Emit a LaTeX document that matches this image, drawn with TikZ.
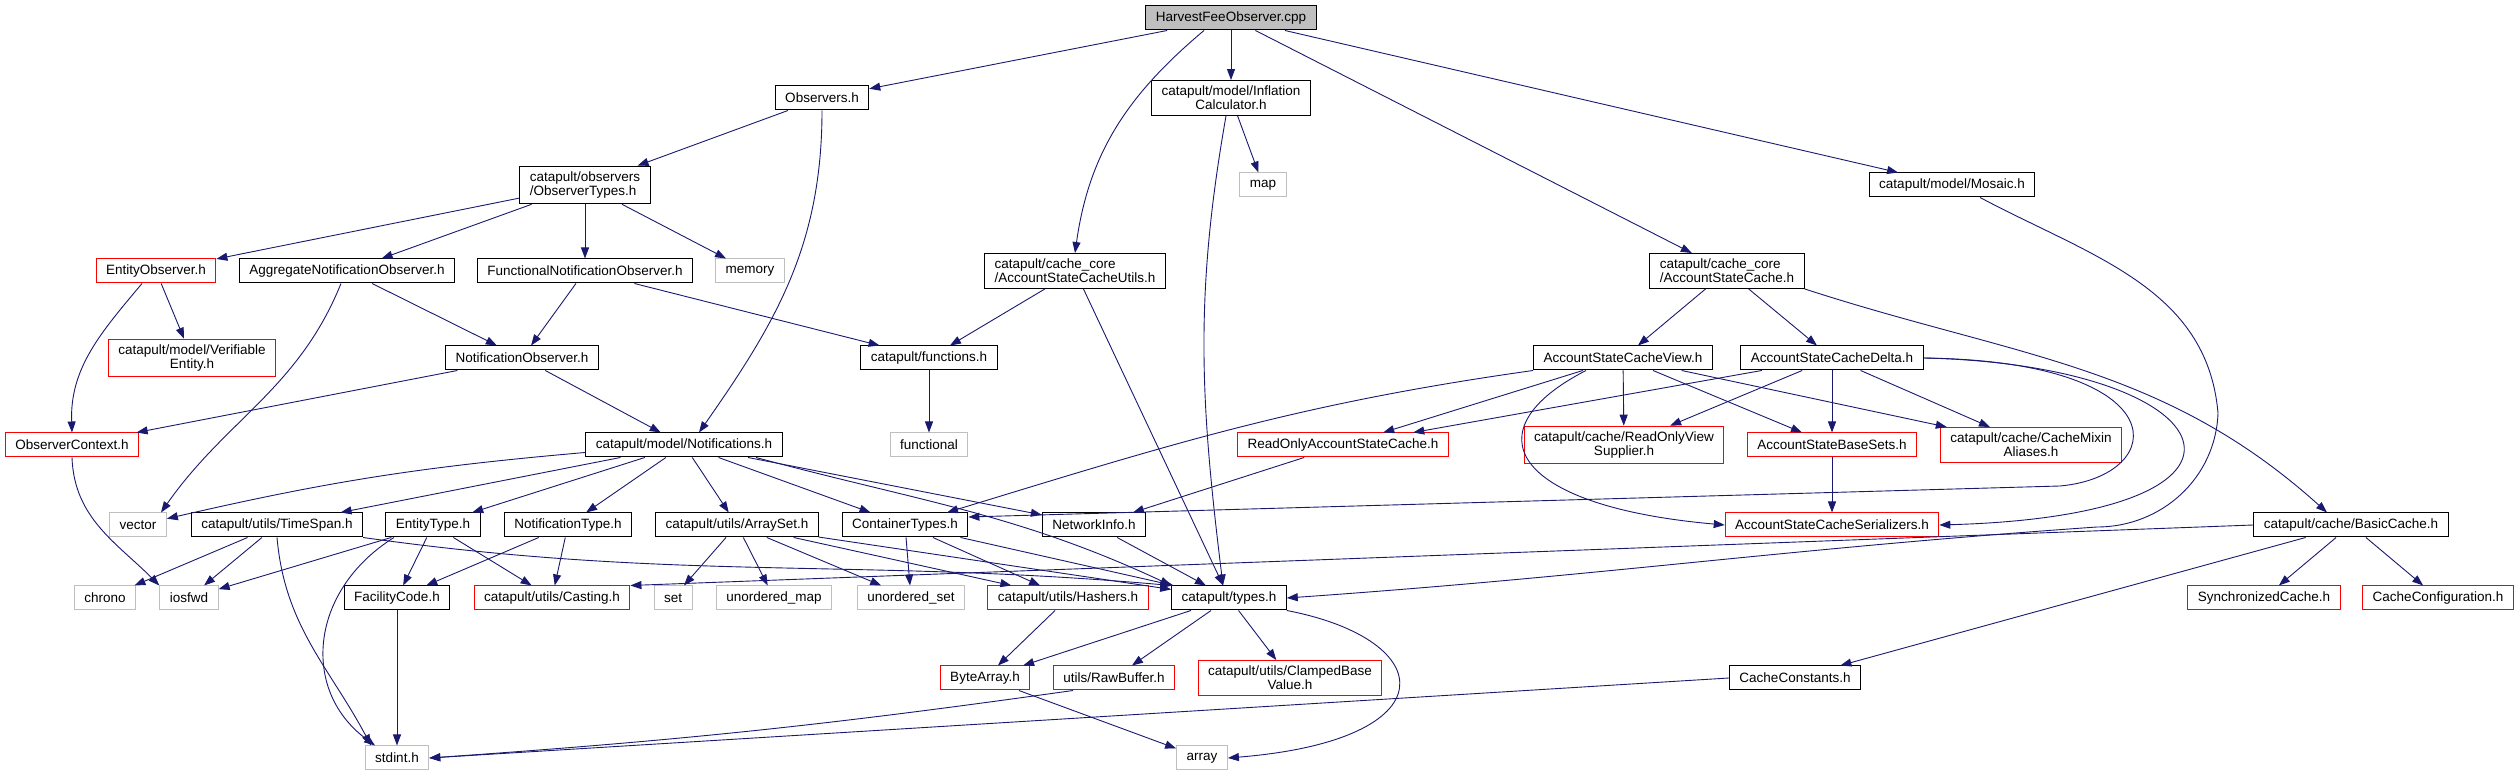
\documentclass[tikz,border=0pt]{standalone}
\usepackage{fontspec}
\setmainfont{Liberation Sans}
\usetikzlibrary{arrows.meta}
\definecolor{edgeblue}{RGB}{25,25,112}
\definecolor{sysgray}{RGB}{191,191,191}

\begin{document}
\begin{tikzpicture}[
  x=1pt, y=1pt,
  every node/.style={font=\fontsize{13.5}{14}\selectfont},
  hdr/.style={draw, line width=1pt, inner xsep=10pt, inner ysep=5.5pt, minimum height=24pt, align=center, fill=white},
  missing/.style={hdr, draw=red},
  sys/.style={hdr, draw=sysgray},
  root/.style={hdr, fill=sysgray},
  inc/.style={draw=edgeblue, line width=0.9pt, -{Triangle[length=11pt, width=8pt]}}
]
  \useasboundingbox (0,0) rectangle (2519,776);

  \node[root] (harvest) at (1231,758) {HarvestFeeObserver.cpp};
  \node[hdr] (observers) at (822,678) {Observers.h};
  \node[hdr] (inflation) at (1231,678) {catapult/model/Inflation\\Calculator.h};
  \node[hdr, align=left] (obstypes) at (585,591) {catapult/observers\\/ObserverTypes.h};
  \node[sys] (map) at (1263,591) {map};
  \node[hdr] (mosaic) at (1952,591) {catapult/model/Mosaic.h};
  \node[missing] (entobs) at (156,505) {EntityObserver.h};
  \node[hdr] (aggobs) at (347,505) {AggregateNotificationObserver.h};
  \node[hdr] (funcobs) at (585,505) {FunctionalNotificationObserver.h};
  \node[sys] (memory) at (750,505) {memory};
  \node[hdr, align=left] (cacheutils) at (1075,505) {catapult/cache\_core\\/AccountStateCacheUtils.h};
  \node[hdr, align=left] (cache) at (1727,505) {catapult/cache\_core\\/AccountStateCache.h};
  \node[missing] (verifiable) at (192,418) {catapult/model/Verifiable\\Entity.h};
  \node[hdr] (notifobs) at (522,418) {NotificationObserver.h};
  \node[hdr] (functions) at (929,418) {catapult/functions.h};
  \node[hdr] (view) at (1623,418) {AccountStateCacheView.h};
  \node[hdr] (delta) at (1832,418) {AccountStateCacheDelta.h};
  \node[missing] (obsctx) at (72,331) {ObserverContext.h};
  \node[hdr] (notifs) at (684,331) {catapult/model/Notifications.h};
  \node[sys] (functional) at (929,331) {functional};
  \node[missing] (readonly) at (1343,331) {ReadOnlyAccountStateCache.h};
  \node[missing] (viewsupplier) at (1624,331) {catapult/cache/ReadOnlyView\\Supplier.h};
  \node[missing] (basesets) at (1832,331) {AccountStateBaseSets.h};
  \node[missing] (mixin) at (2031,331) {catapult/cache/CacheMixin\\Aliases.h};
  \node[sys] (vector) at (138,251) {vector};
  \node[hdr] (timespan) at (277,251) {catapult/utils/TimeSpan.h};
  \node[hdr] (enttype) at (433,251) {EntityType.h};
  \node[hdr] (notiftype) at (568,251) {NotificationType.h};
  \node[hdr] (arrayset) at (737,251) {catapult/utils/ArraySet.h};
  \node[hdr] (containers) at (905,251) {ContainerTypes.h};
  \node[hdr] (netinfo) at (1094,251) {NetworkInfo.h};
  \node[missing] (serializers) at (1832,251) {AccountStateCacheSerializers.h};
  \node[hdr] (basiccache) at (2351,251) {catapult/cache/BasicCache.h};
  \node[sys] (chrono) at (105,178) {chrono};
  \node[sys] (iosfwd) at (189,178) {iosfwd};
  \node[hdr] (facility) at (397,178) {FacilityCode.h};
  \node[missing] (casting) at (552,178) {catapult/utils/Casting.h};
  \node[sys] (set) at (673,178) {set};
  \node[sys] (umap) at (774,178) {unordered\_map};
  \node[sys] (uset) at (911,178) {unordered\_set};
  \node[missing] (hashers) at (1068,178) {catapult/utils/Hashers.h};
  \node[hdr] (types) at (1229,178) {catapult/types.h};
  \node[missing] (syncache) at (2264,178) {SynchronizedCache.h};
  \node[missing] (cacheconf) at (2438,178) {CacheConfiguration.h};
  \node[missing] (bytearray) at (985,98) {ByteArray.h};
  \node[missing] (rawbuffer) at (1114,98) {utils/RawBuffer.h};
  \node[missing] (clamped) at (1290,98) {catapult/utils/ClampedBase\\Value.h};
  \node[hdr] (constants) at (1795,98) {CacheConstants.h};
  \node[sys] (stdint) at (397,18) {stdint.h};
  \node[sys] (array) at (1202,18) {array};

  \draw[inc] (harvest) -- (observers);
  \draw[inc] ([xshift=-27pt]harvest.south) to[out=-140,in=82] (cacheutils.north);
  \draw[inc] (harvest) -- (inflation);
  \draw[inc] (harvest) -- (cache);
  \draw[inc] (harvest) -- (mosaic);
  \draw[inc] (observers) -- (obstypes);
  \draw[inc] (observers.south) to[out=-90,in=55] ([xshift=15pt]notifs.north);
  \draw[inc] (obstypes) -- (entobs);
  \draw[inc] (obstypes) -- (aggobs);
  \draw[inc] (obstypes) -- (funcobs);
  \draw[inc] (obstypes) -- (memory);
  \draw[inc] (entobs) -- (verifiable);
  \draw[inc] ([xshift=-14pt]entobs.south) to[out=-130,in=92] (obsctx.north);
  \draw[inc] (aggobs) -- (notifobs);
  \draw[inc] ([xshift=-6pt]aggobs.south) to[out=-112,in=55] ([xshift=23pt]vector.north);
  \draw[inc] (funcobs) -- (notifobs);
  \draw[inc] (funcobs) -- (functions);
  \draw[inc] (notifobs) -- (obsctx);
  \draw[inc] (notifobs) -- (notifs);
  \draw[inc] (obsctx.south) to[out=-88,in=135] (iosfwd.north west);
  \draw[inc] (inflation) -- (map);
  \draw[inc] ([xshift=-5pt]inflation.south) to[out=-100,in=97] ([xshift=-6pt]types.north);
  \draw[inc] (cacheutils) -- (functions);
  \draw[inc] (cacheutils) -- (types);
  \draw[inc] (functions) -- (functional);
  \draw[inc] ([xshift=28pt]mosaic.south) to[out=-28,in=95] (2218,363) to[out=-92,in=0] (2097,249) to[out=184,in=4] (types.east);
  \draw[inc] (cache) -- (view);
  \draw[inc] (cache) -- (delta);
  \draw[inc] (cache.south east) to[out=-18,in=138] ([xshift=-24pt]basiccache.north);

  \draw[inc] (view.south west) to[out=-172,in=17] ([xshift=42pt]containers.north);
  \draw[inc] (view) -- (readonly);
  \draw[inc] (view) -- (viewsupplier);
  \draw[inc] (view) -- (basesets);
  \draw[inc] (view) -- (mixin);
  \draw[inc] ([xshift=-37pt]view.south) .. controls (1470,346) and (1510,270) .. (serializers.west);
  \draw[inc] (delta) -- (readonly);
  \draw[inc] (delta) -- (viewsupplier);
  \draw[inc] (delta) -- (basesets);
  \draw[inc] (delta) -- (mixin);
  \draw[inc] (delta.east) .. controls (2230,411) and (2300,261) .. (serializers.east);
  \draw[inc] (delta.east) .. controls (2180,415) and (2170,300) .. (2060,290) -- ([yshift=8pt]containers.east);
  \draw[inc] (basesets) -- (serializers);
  \draw[inc] (readonly) -- (netinfo);

  \draw[inc] (notifs) to[bend right=4] (vector);
  \draw[inc] (notifs) -- (timespan);
  \draw[inc] (notifs) -- (enttype);
  \draw[inc] (notifs) -- (notiftype);
  \draw[inc] (notifs) -- (arrayset);
  \draw[inc] (notifs) -- (containers);
  \draw[inc] (notifs) -- (netinfo);
  \draw[inc] ([xshift=72pt]notifs.south) to[out=-15,in=155] (types.north west);
  \draw[inc] (timespan) -- (chrono);
  \draw[inc] (timespan) -- (iosfwd);
  \draw[inc] (timespan.south) to[out=-85,in=118] ([xshift=-26pt]stdint.north);
  \draw[inc] (timespan.south east) to[out=-8,in=175] (types.north west);
  \draw[inc] (enttype) -- (iosfwd);
  \draw[inc] ([xshift=-39pt]enttype.south) .. controls (310,186) and (300,86) .. ([xshift=-22pt]stdint.north);
  \draw[inc] (enttype) -- (facility);
  \draw[inc] (enttype) -- (casting);
  \draw[inc] (notiftype) -- (facility);
  \draw[inc] (notiftype) -- (casting);
  \draw[inc] (arrayset) -- (set);
  \draw[inc] (arrayset) -- (umap);
  \draw[inc] (arrayset) -- (uset);
  \draw[inc] (arrayset) -- (hashers);
  \draw[inc] (arrayset) -- (types);
  \draw[inc] (containers) -- (uset);
  \draw[inc] (containers) -- (hashers);
  \draw[inc] (containers) -- (types);
  \draw[inc] (netinfo) -- (types);
  \draw[inc] (facility) -- (stdint);
  \draw[inc] (hashers) -- (bytearray);
  \draw[inc] (types) -- (bytearray);
  \draw[inc] (types) -- (rawbuffer);
  \draw[inc] (types) -- (clamped);
  \draw[inc] (types.south east) .. controls (1440,136) and (1450,36) .. (array.east);
  \draw[inc] (bytearray) -- (array);
  \draw[inc] ([xshift=-41pt]rawbuffer.south) to[out=188,in=4] (stdint.east);
  \draw[inc] (basiccache.west) -- (casting.north east);
  \draw[inc] (basiccache) -- (syncache);
  \draw[inc] (basiccache) -- (cacheconf);
  \draw[inc] (basiccache) -- (constants);
  \draw[inc] (constants.west) -- (stdint.east);
\end{tikzpicture}
\end{document}
